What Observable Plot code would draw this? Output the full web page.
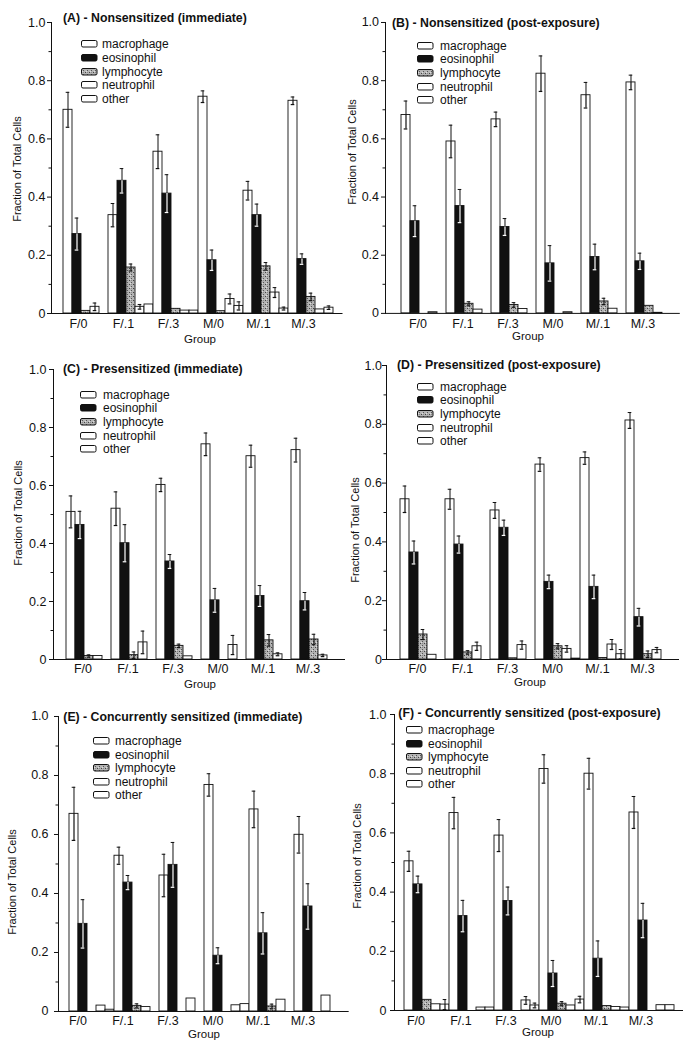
<!DOCTYPE html>
<html><head><meta charset="utf-8">
<script src="https://cdn.jsdelivr.net/npm/d3@7"></script>
<script src="https://cdn.jsdelivr.net/npm/@observablehq/plot@0.6"></script>
<style>
body{margin:0;background:#fff;}
#root{position:relative;width:695px;height:1050px;overflow:hidden;font-family:"Liberation Sans",Arial,Helvetica,sans-serif;color:#111;}
.abs{position:absolute;white-space:nowrap;line-height:1;}
.title{font-weight:bold;font-size:12.3px;transform:translateY(-50%);}
.ylab{font-size:11px;transform:translate(-50%,-50%) rotate(-90deg);}
.xlab{font-size:11.5px;transform:translate(-50%,-50%);}
.leg{font-size:12px;transform:translateY(-50%);}
</style></head><body>
<svg width="0" height="0" style="position:absolute"><defs>
<pattern id="stipple" width="4" height="4" patternUnits="userSpaceOnUse">
<rect width="4" height="4" fill="#b4b4b4"/><rect x="0" y="0" width="1" height="1" fill="#444"/><rect x="2" y="2" width="1" height="1" fill="#555"/><rect x="2" y="0" width="1" height="1" fill="#888"/><rect x="1" y="3" width="1" height="1" fill="#ddd"/>
</pattern></defs></svg>
<div id="root"></div>
<script>
const groups = ["F/0", "F/.1", "F/.3", "M/0", "M/.1", "M/.3"];
const cellTypes = ["macrophage", "eosinophil", "lymphocyte", "neutrophil", "other"];
const yTicks = [0, 0.2, 0.4, 0.6, 0.8, 1.0];
const yMinorTicks = [0.1, 0.3, 0.5, 0.7, 0.9];
const yLabel = "Fraction of Total Cells";
const xLabel = "Group";

const titleA = "(A) - Nonsensitized (immediate)";
const titleB = "(B) - Nonsensitized (post-exposure)";
const titleC = "(C) - Presensitized (immediate)";
const titleD = "(D) - Presensitized (post-exposure)";
const titleE = "(E) - Concurrently sensitized (immediate)";
const titleF = "(F) - Concurrently sensitized (post-exposure)";

// rows: macrophage, eosinophil, lymphocyte, neutrophil, other; columns: groups
const meanA = [
  [0.700, 0.338, 0.556, 0.745, 0.422, 0.731],
  [0.273, 0.456, 0.412, 0.183, 0.338, 0.187],
  [0.009, 0.158, 0.016, 0.008, 0.162, 0.057],
  [0.023, 0.023, 0.010, 0.050, 0.072, 0.014],
  [0.000, 0.031, 0.010, 0.026, 0.017, 0.020]];
const errA = [
  [0.060, 0.040, 0.058, 0.020, 0.032, 0.013],
  [0.055, 0.042, 0.065, 0.035, 0.038, 0.018],
  [0.000, 0.012, 0.000, 0.000, 0.013, 0.013],
  [0.013, 0.008, 0.000, 0.017, 0.017, 0.000],
  [0.000, 0.000, 0.000, 0.014, 0.005, 0.006]];

const meanB = [
  [0.682, 0.591, 0.667, 0.824, 0.750, 0.794],
  [0.317, 0.369, 0.297, 0.172, 0.194, 0.179],
  [0.000, 0.033, 0.029, 0.000, 0.041, 0.026],
  [0.004, 0.013, 0.015, 0.004, 0.016, 0.002],
  [0.000, 0.000, 0.000, 0.000, 0.000, 0.000]];
const errB = [
  [0.048, 0.056, 0.025, 0.061, 0.044, 0.025],
  [0.053, 0.057, 0.029, 0.061, 0.044, 0.028],
  [0.000, 0.007, 0.008, 0.000, 0.011, 0.000],
  [0.000, 0.000, 0.000, 0.000, 0.000, 0.000],
  [0.000, 0.000, 0.000, 0.000, 0.000, 0.000]];

const meanC = [
  [0.509, 0.520, 0.602, 0.742, 0.701, 0.722],
  [0.464, 0.401, 0.338, 0.204, 0.219, 0.201],
  [0.012, 0.015, 0.047, 0.000, 0.066, 0.069],
  [0.012, 0.059, 0.011, 0.050, 0.018, 0.014],
  [0.000, 0.000, 0.000, 0.000, 0.000, 0.000]];
const errC = [
  [0.055, 0.058, 0.023, 0.039, 0.038, 0.041],
  [0.047, 0.064, 0.024, 0.041, 0.036, 0.030],
  [0.004, 0.011, 0.006, 0.000, 0.020, 0.018],
  [0.000, 0.039, 0.000, 0.033, 0.005, 0.004],
  [0.000, 0.000, 0.000, 0.000, 0.000, 0.000]];

const meanD = [
  [0.545, 0.545, 0.507, 0.663, 0.685, 0.813],
  [0.364, 0.391, 0.448, 0.264, 0.247, 0.144],
  [0.085, 0.024, 0.004, 0.045, 0.005, 0.018],
  [0.016, 0.045, 0.049, 0.036, 0.051, 0.032],
  [0.000, 0.000, 0.000, 0.003, 0.018, 0.000]];
const errD = [
  [0.045, 0.034, 0.027, 0.023, 0.021, 0.027],
  [0.039, 0.029, 0.026, 0.023, 0.040, 0.030],
  [0.017, 0.006, 0.000, 0.009, 0.000, 0.011],
  [0.000, 0.014, 0.014, 0.011, 0.017, 0.009],
  [0.000, 0.000, 0.000, 0.000, 0.016, 0.000]];

const meanE = [
  [0.670, 0.528, 0.461, 0.768, 0.685, 0.599],
  [0.297, 0.437, 0.497, 0.189, 0.265, 0.356],
  [0.000, 0.019, 0.000, 0.000, 0.017, 0.000],
  [0.020, 0.015, 0.044, 0.021, 0.040, 0.054],
  [0.006, 0.000, 0.000, 0.025, 0.000, 0.000]];
const errE = [
  [0.090, 0.029, 0.072, 0.038, 0.062, 0.062],
  [0.082, 0.024, 0.076, 0.027, 0.070, 0.077],
  [0.000, 0.007, 0.000, 0.000, 0.008, 0.000],
  [0.000, 0.000, 0.000, 0.000, 0.000, 0.000],
  [0.000, 0.000, 0.000, 0.000, 0.000, 0.000]];

const meanF = [
  [0.504, 0.667, 0.591, 0.816, 0.800, 0.669],
  [0.426, 0.319, 0.370, 0.125, 0.175, 0.304],
  [0.036, 0.000, 0.000, 0.023, 0.015, 0.000],
  [0.021, 0.010, 0.034, 0.017, 0.012, 0.018],
  [0.020, 0.010, 0.017, 0.037, 0.010, 0.018]];
const errF = [
  [0.034, 0.053, 0.054, 0.048, 0.052, 0.054],
  [0.028, 0.053, 0.047, 0.044, 0.060, 0.058],
  [0.000, 0.000, 0.000, 0.007, 0.000, 0.000],
  [0.000, 0.000, 0.013, 0.000, 0.000, 0.000],
  [0.017, 0.000, 0.008, 0.011, 0.000, 0.000]];

// layout (page pixels)
const panels = [
  {title: titleA, mean: meanA, err: errA, ax: 51, yTop: 21.7, y0: 312.7, xEnd: 342.5, pad: 2.3, tx: 63, ty: 17.5, lx: 81, ly: 44.3, ltx: 102, ylx: 17, yly: 169, gx: 200, gy: 340, tickGap: 6, labDx: -7.5, labGap: 6},
  {title: titleB, mean: meanB, err: errB, ax: 385, yTop: 21.8, y0: 312.7, xEnd: 679.8, pad: 6.3, tx: 392, ty: 23, lx: 417, ly: 45.7, ltx: 440, ylx: 352, yly: 152, gx: 528, gy: 337, tickGap: 6.5, labDx: -6, labGap: 5.5},
  {title: titleC, mean: meanC, err: errC, ax: 53, yTop: 369.3, y0: 659.3, xEnd: 345, pad: 3, tx: 63, ty: 368.5, lx: 80, ly: 394.7, ltx: 103, ylx: 18.3, yly: 513, gx: 200, gy: 685, tickGap: 7, labDx: -6, labGap: 4.5},
  {title: titleD, mean: meanD, err: errD, ax: 386, yTop: 365.3, y0: 659.3, xEnd: 679, pad: 5.3, tx: 397, ty: 364.5, lx: 417, ly: 386.7, ltx: 440, ylx: 355, yly: 530, gx: 530, gy: 683, tickGap: 4.5, labDx: -5.5, labGap: 4.5},
  {title: titleE, mean: meanE, err: errE, ax: 58.3, yTop: 716, y0: 1011, xEnd: 349, pad: 0.7, tx: 63.3, ty: 717, lx: 92.7, ly: 741, ltx: 115, ylx: 12.3, yly: 882, gx: 204, gy: 1035, tickGap: 10, labDx: -14, labGap: 4.5},
  {title: titleF, mean: meanF, err: errF, ax: 394, yTop: 714, y0: 1010, xEnd: 683, pad: 0, tx: 398.3, ty: 713.3, lx: 406, ly: 730, ltx: 428, ylx: 356.7, yly: 856, gx: 538, gy: 1033, tickGap: 8, labDx: -11, labGap: 5.5}
];

const INK = "#111";
const fillOf = t => t === "eosinophil" ? INK : t === "lymphocyte" ? "url(#stipple)" : "white";
const lowerInk = t => t === "eosinophil" ? "white" : INK;
const keyOf = (g, t) => g + "|" + t;
const keys = groups.flatMap(g => cellTypes.map(t => keyOf(g, t)));

const root = document.getElementById("root");
function addDiv(cls, text, x, y) {
  const d = document.createElement("div");
  d.className = "abs " + cls;
  d.textContent = text;
  d.style.left = x + "px";
  d.style.top = y + "px";
  root.appendChild(d);
  return d;
}

for (const p of panels) {
  const rows = groups.flatMap((g, gi) => cellTypes.map((t, ti) => ({key: keyOf(g, t), group: g, type: t, v: p.mean[ti][gi], e: p.err[ti][gi]})));
  const barRows = rows.filter(d => d.v > 0);
  const errRows = rows.filter(d => d.e > 0);
  const mL = 50, mT = 10, mR = 8, mB = 25;
  const W = mL + (p.xEnd - p.ax) + mR;
  const H = mT + (p.y0 - p.yTop) + mB;
  const svg = Plot.plot({
    width: W, height: H,
    marginLeft: mL, marginRight: mR, marginTop: mT, marginBottom: mB,
    style: {background: "transparent", overflow: "visible", fontFamily: "'Liberation Sans', Arial, sans-serif", color: INK},
    x: {type: "band", domain: keys, range: [mL + p.pad, mL + (p.xEnd - p.ax)], padding: 0, label: null},
    y: {domain: [0, 1], label: null},
    color: {type: "identity"},
    marks: [
      Plot.barY(barRows, {x: "key", y: "v", fill: d => fillOf(d.type), stroke: INK, strokeWidth: 0.9}),
      Plot.ruleX(errRows, {x: "key", y1: "v", y2: d => d.v + d.e, stroke: INK, strokeWidth: 1}),
      Plot.tickY(errRows, {x: "key", y: d => d.v + d.e, stroke: INK, strokeWidth: 1, insetLeft: 2.7, insetRight: 2.7}),
      Plot.ruleX(errRows, {x: "key", y1: d => Math.max(0, d.v - d.e), y2: "v", stroke: d => lowerInk(d.type), strokeWidth: 1.2}),
      Plot.tickY(errRows, {x: "key", y: d => Math.max(0, d.v - d.e), stroke: d => lowerInk(d.type), strokeWidth: 1.2, insetLeft: 2.7, insetRight: 2.7}),
      Plot.ruleY([0], {stroke: INK, strokeWidth: 1}),
      Plot.frame({anchor: "left", stroke: INK, strokeWidth: 1}),
      Plot.axisY({ticks: yTicks, tickSize: 4, tickPadding: p.tickGap - 4, tickFormat: d => d === 0 ? "0" : d.toFixed(1), fontSize: 12.5, label: null, stroke: INK, fill: INK}),
      Plot.axisY({ticks: yMinorTicks, tickSize: 2.5, tickFormat: () => "", label: null, stroke: INK}),
      Plot.axisX({ticks: groups.map(g => keyOf(g, "lymphocyte")), tickSize: 0, tickPadding: p.labGap, tickFormat: k => k.split("|")[0], fontSize: 12.5, dx: p.labDx, label: null, fill: INK})
    ]
  });
  svg.style.position = "absolute";
  svg.style.left = (p.ax - mL) + "px";
  svg.style.top = (p.yTop - mT) + "px";
  svg.style.maxWidth = "none";
  root.appendChild(svg);

  addDiv("title", p.title, p.tx, p.ty);
  addDiv("ylab", yLabel, p.ylx, p.yly);
  addDiv("xlab", xLabel, p.gx, p.gy);
  cellTypes.forEach((t, i) => {
    const cy = p.ly + i * 13.6;
    const sw = document.createElementNS("http://www.w3.org/2000/svg", "svg");
    sw.setAttribute("width", 17); sw.setAttribute("height", 8);
    sw.style.position = "absolute";
    sw.style.left = p.lx + "px";
    sw.style.top = (cy - 4) + "px";
    const r = document.createElementNS("http://www.w3.org/2000/svg", "rect");
    r.setAttribute("x", 0.5); r.setAttribute("y", 0.5); r.setAttribute("width", 15.5); r.setAttribute("height", 6.5);
    r.setAttribute("rx", 1.5);
    r.setAttribute("fill", fillOf(t)); r.setAttribute("stroke", INK); r.setAttribute("stroke-width", 1);
    sw.appendChild(r);
    root.appendChild(sw);
    addDiv("leg", t, p.ltx, cy);
  });
}
</script>
</body></html>
